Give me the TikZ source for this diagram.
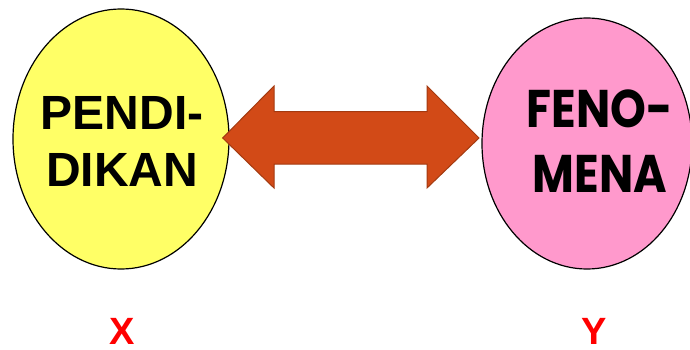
\documentclass[tikz,border=0pt]{standalone}
\usepackage{fontspec}
\setmainfont{Liberation Sans}
\newfontfamily\geo[FakeStretch=0.86]{Poppins}
\usetikzlibrary{shapes.geometric}
\definecolor{ellyellow}{HTML}{FFFF66}
\definecolor{ellpink}{HTML}{FF99CC}
\definecolor{arrfill}{HTML}{D24A17}
\definecolor{arrdraw}{HTML}{A33A10}
\definecolor{lblred}{HTML}{FF0000}
\begin{document}
\begin{tikzpicture}[x=1pt,y=-1pt,
  bubble/.style={ellipse,draw=black,line width=1.2pt,inner sep=0pt},
  bigtxt/.style={font=\fontsize{48}{57}\selectfont\bfseries,align=center,inner sep=0pt},
  geotxt/.style={font=\geo\fontsize{53}{65}\selectfont\bfseries,align=center,inner sep=0pt},
  vartxt/.style={font=\fontsize{38}{38}\selectfont\bfseries,text=lblred,inner sep=0pt,anchor=base}]
\useasboundingbox (0,0) rectangle (690,350);
\node[bubble,fill=ellyellow,minimum width=216pt,minimum height=260pt] (pend) at (121,139) {};
\node[bubble,fill=ellpink,minimum width=210pt,minimum height=251pt] (feno) at (587,143.5) {};
\node[bigtxt] (ptxt) at (122,141) {PENDI-\\DIKAN};
\node[geotxt] (ftxt) at (600,141.5) {FENO-\\MENA};
\draw[fill=arrfill,draw=arrdraw,line width=1pt,line join=miter]
  (222.7,138) -- (274,86) -- (274,111.7) -- (427,111.7) -- (427,86) -- (479,138)
  -- (427,188) -- (427,164) -- (274,164) -- (274,188) -- cycle;
\node[vartxt] (xlbl) at (122,344.5) {X};
\node[vartxt] (ylbl) at (594,344.5) {Y};
\end{tikzpicture}
\end{document}
